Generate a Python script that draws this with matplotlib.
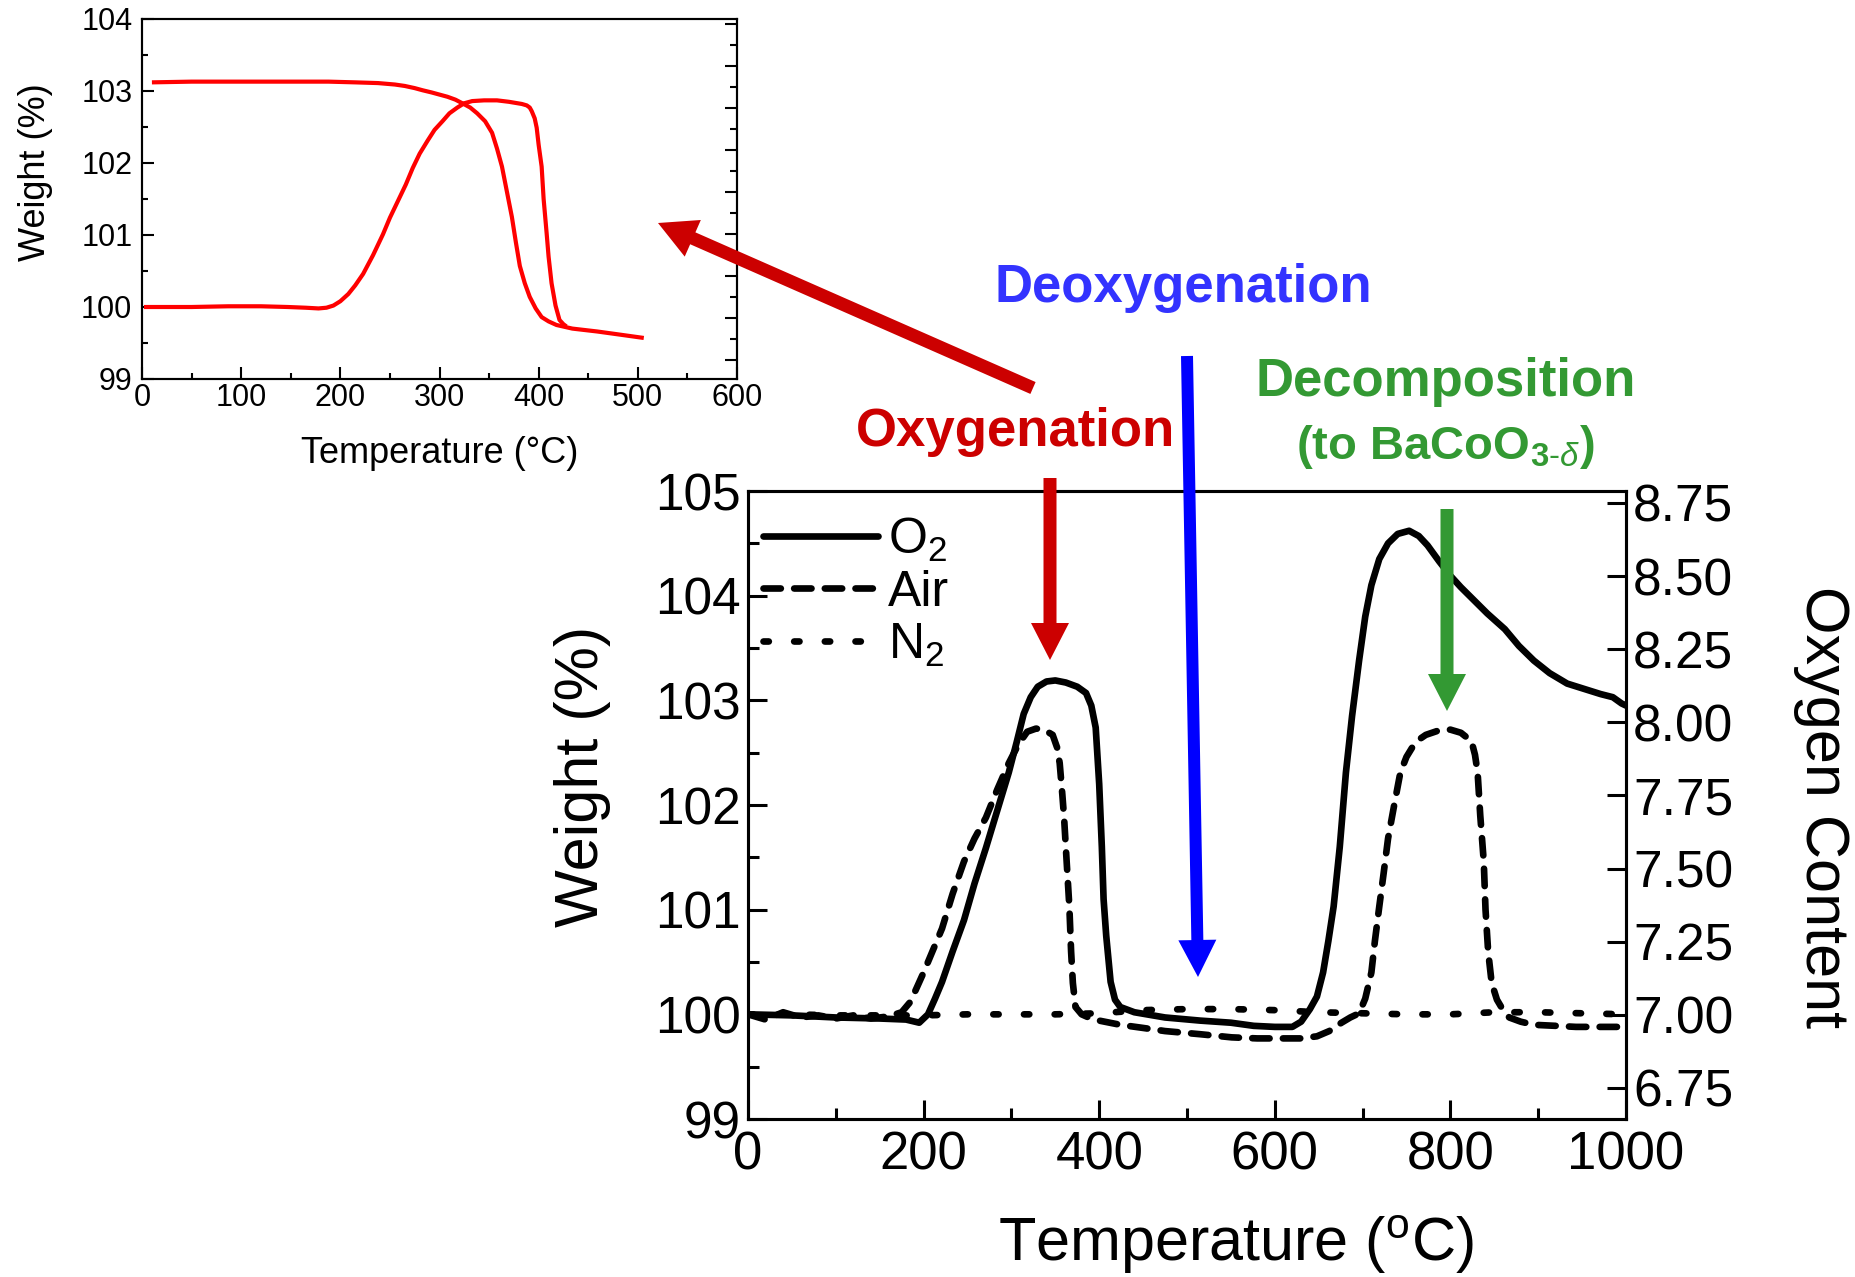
import numpy as np
import matplotlib
matplotlib.use("Agg")
import matplotlib.pyplot as plt
from matplotlib.ticker import MultipleLocator, FixedLocator, NullFormatter
from matplotlib.patches import FancyArrow

plt.rcParams['font.family'] = ['Liberation Sans', 'DejaVu Sans']
plt.rcParams['mathtext.fontset'] = 'custom'
plt.rcParams['mathtext.rm'] = 'Liberation Sans'
plt.rcParams['mathtext.it'] = 'Liberation Sans:italic'
plt.rcParams['mathtext.bf'] = 'Liberation Sans:bold'

# --------------------------------------------------
# data
# --------------------------------------------------

# main plot: weight (%) vs temperature (C)
o2_temp = [0, 50, 100, 150, 180, 195, 205, 213, 221, 233, 246, 258, 271, 284, 297,
           306, 314, 322, 330, 340, 350, 362, 375, 385, 391, 396, 400, 403, 405, 408,
           413, 418, 424, 440, 475, 515, 550, 576, 600, 620, 630, 640, 648, 655, 661,
           667, 674, 681, 688, 696, 703, 710, 719, 729, 740, 753, 764, 774, 787, 800,
           812, 824, 842, 862, 878, 895, 913, 933, 952, 971, 985, 995, 1000]
o2_weight = [100.0, 99.99, 99.97, 99.96, 99.95, 99.92, 100.0, 100.15, 100.31, 100.6,
             100.9, 101.25, 101.59, 101.95, 102.31, 102.6, 102.87, 103.03, 103.13, 103.18,
             103.19, 103.17, 103.13, 103.07, 102.95, 102.74, 102.2, 101.6, 101.1, 100.75,
             100.31, 100.14, 100.07, 100.02, 99.97, 99.94, 99.92, 99.89, 99.88, 99.88,
             99.93, 100.05, 100.17, 100.4, 100.7, 101.03, 101.6, 102.31, 102.85, 103.38,
             103.8, 104.1, 104.35, 104.5, 104.59, 104.62, 104.57, 104.48, 104.33, 104.19,
             104.08, 103.98, 103.83, 103.68, 103.52, 103.38, 103.26, 103.16, 103.11, 103.06,
             103.03, 102.97, 102.95]

air_temp = [0, 20, 40, 60, 80, 100, 120, 140, 160, 175, 185, 200, 210, 221, 233, 246,
            258, 271, 284, 297, 308, 318, 328, 337, 347, 352, 355, 358, 360, 363, 366,
            368, 370, 373, 380, 388, 400, 424, 450, 475, 515, 551, 580, 610, 630, 648,
            662, 676, 686, 696, 703, 710, 714, 719, 724, 729, 736, 743, 750, 758, 765,
            772, 786, 800, 812, 824, 828, 831, 834, 838, 840, 843, 847, 853, 860, 867,
            880, 895, 920, 943, 970, 1000]
air_weight = [100.0, 99.95, 100.02, 99.97, 99.99, 99.96, 99.99, 99.96, 99.98, 100.02,
              100.12, 100.4, 100.6, 100.82, 101.15, 101.46, 101.68, 101.88, 102.15, 102.4,
              102.58, 102.7, 102.73, 102.72, 102.67, 102.55, 102.4, 102.1, 101.88, 101.45,
              101.03, 100.6, 100.3, 100.07, 100.0, 99.97, 99.94, 99.9, 99.87, 99.84,
              99.81, 99.78, 99.77, 99.77, 99.77, 99.79, 99.84, 99.92, 99.97, 100.01,
              100.15, 100.4, 100.7, 101.03, 101.35, 101.68, 102.0, 102.31, 102.46, 102.57,
              102.63, 102.67, 102.71, 102.72, 102.69, 102.61, 102.48, 102.31, 101.9, 101.46,
              101.0, 100.6, 100.3, 100.14, 100.04, 99.97, 99.93, 99.9, 99.89, 99.88,
              99.88, 99.88]

n2_temp = [0, 50, 100, 150, 200, 250, 300, 350, 400, 450, 500, 550, 600, 650, 700,
           750, 800, 850, 900, 950, 1000]
n2_weight = [100.0, 100.0, 99.99, 99.99, 99.99, 100.0, 100.0, 100.0, 100.01, 100.04,
             100.05, 100.05, 100.04, 100.02, 100.01, 100.0, 100.0, 100.02, 100.02, 100.01,
             100.0]

# inset: two red curves
inset_a_temp = [10, 50, 100, 150, 188, 215, 238, 255, 265, 275, 283, 292, 300, 308, 316,
                323, 331, 338, 346, 353, 358, 363, 368, 373, 377, 381, 386, 391, 397, 403,
                410, 418, 434, 459, 480, 506]
inset_a_weight = [103.12, 103.13, 103.13, 103.13, 103.13, 103.12, 103.11, 103.09, 103.07,
                  103.04, 103.01, 102.98, 102.95, 102.92, 102.88, 102.83, 102.77, 102.69,
                  102.58, 102.42, 102.2, 101.95, 101.6, 101.25, 100.9, 100.57, 100.33,
                  100.14, 99.98, 99.86, 99.8, 99.75, 99.7, 99.66, 99.62, 99.57]

inset_b_temp = [2, 50, 87, 120, 147, 165, 178, 186, 193, 200, 208, 215, 223, 233, 243,
                250, 258, 266, 273, 280, 288, 295, 303, 310, 318, 325, 333, 345, 358, 370,
                383, 388, 391, 393, 396, 398, 400, 403, 405, 408, 410, 413, 417, 421, 425,
                428]
inset_b_weight = [100.0, 100.0, 100.01, 100.01, 100.0, 99.99, 99.98, 99.99, 100.02, 100.08,
                  100.18, 100.3, 100.46, 100.72, 101.01, 101.24, 101.47, 101.7, 101.93,
                  102.13, 102.31, 102.46, 102.58, 102.69, 102.77, 102.83, 102.86, 102.87,
                  102.87, 102.85, 102.82, 102.8, 102.77, 102.72, 102.62, 102.49, 102.25,
                  101.95, 101.5, 101.03, 100.7, 100.33, 100.02, 99.82, 99.76, 99.73]

oxygen_ticks = [6.75, 7.00, 7.25, 7.50, 7.75, 8.00, 8.25, 8.50, 8.75]

# --------------------------------------------------
# figure
# --------------------------------------------------
W, H = 1855, 1277
fig = plt.figure(figsize=(W / 100, H / 100), dpi=100)

# ---- main axes ----
ax = fig.add_axes([748 / W, 1 - 1119 / H, 878 / W, 628 / H])
lw = 4.8
ax.plot(o2_temp, o2_weight, color='black', lw=lw, solid_capstyle='round',
        solid_joinstyle='round', label='O$_2$')
ax.plot(air_temp, air_weight, color='black', lw=lw, linestyle=(0, (2.6, 2.0)),
        dash_capstyle='round', label='Air')
ax.plot(n2_temp, n2_weight, color='black', lw=lw, linestyle=(0, (0.8, 3.8)),
        dash_capstyle='round', label='N$_2$')

ax.set_xlim(0, 1000)
ax.set_ylim(99, 105)
ax.xaxis.set_major_locator(MultipleLocator(200))
ax.xaxis.set_minor_locator(MultipleLocator(100))
ax.yaxis.set_major_locator(MultipleLocator(1))
ax.yaxis.set_minor_locator(MultipleLocator(0.5))
ax.tick_params(which='both', direction='in', top=False, right=False, width=2.2)
ax.tick_params(which='major', length=14, pad=5)
ax.tick_params(which='minor', length=8)
ax.tick_params(axis='y', labelsize=37)
ax.tick_params(axis='x', labelsize=38, pad=8)
for s in ax.spines.values():
    s.set_linewidth(2.2)

ax.set_xlabel("Temperature ($^{\\rm o}$C)", fontsize=44, va='center')
ax.xaxis.set_label_coords(0.556, -0.2)
ax.set_ylabel("Weight (%)", fontsize=44, va='center')
ax.yaxis.set_label_coords(-0.189, 0.545)

ax.legend(loc='upper left', bbox_to_anchor=(0.0, 0.985), frameon=False, fontsize=36,
          handlelength=2.3, handletextpad=0.2, labelspacing=0.12, borderaxespad=0.2,
          borderpad=0.1)

# right axis: oxygen content
ax2 = ax.twinx()
ax2.set_ylim(6.644, 8.791)
ax2.yaxis.set_major_locator(FixedLocator(oxygen_ticks))
ax2.set_yticklabels([f"{v:.2f}" for v in oxygen_ticks])
ax2.tick_params(which='both', direction='in', length=14, width=2.2, labelsize=37, pad=5)
for s in ax2.spines.values():
    s.set_linewidth(2.2)
ax2.set_ylabel("Oxygen Content", fontsize=44, rotation=-90, va='center')
ax2.yaxis.set_label_coords(1.223, 0.497)

# ---- inset axes ----
axi = fig.add_axes([142 / W, 1 - 379 / H, 595 / W, 360 / H])
axi.plot(inset_a_temp, inset_a_weight, color='#FF0000', lw=3.0, solid_capstyle='butt')
axi.plot(inset_b_temp, inset_b_weight, color='#FF0000', lw=3.0, solid_capstyle='butt')
axi.set_xlim(0, 600)
axi.set_ylim(99, 104)
axi.xaxis.set_major_locator(MultipleLocator(100))
axi.xaxis.set_minor_locator(MultipleLocator(50))
axi.yaxis.set_major_locator(MultipleLocator(1))
axi.yaxis.set_minor_locator(MultipleLocator(0.5))
axi.tick_params(which='both', direction='in', top=False, right=False, width=1.5,
                labelsize=22, pad=3)
axi.tick_params(axis='y', pad=7)
axi.tick_params(which='major', length=8.5)
axi.tick_params(which='minor', length=4.5)
for s in axi.spines.values():
    s.set_linewidth(1.5)
axi.set_xlabel("Temperature (\u00b0C)", fontsize=26, va='center')
axi.xaxis.set_label_coords(0.50, -0.208)
axi.set_ylabel("Weight (%)", fontsize=26, va='center')
axi.yaxis.set_label_coords(-0.179, 0.576)

# unlabelled ticks on the inset's right side
axi2 = axi.twinx()
axi2.set_ylim(-0.452, 8.119)
axi2.yaxis.set_major_locator(MultipleLocator(1))
axi2.yaxis.set_minor_locator(MultipleLocator(0.5))
axi2.yaxis.set_major_formatter(NullFormatter())
axi2.tick_params(which='both', direction='in', width=1.5)
axi2.tick_params(which='major', length=8.5)
axi2.tick_params(which='minor', length=5)
for s in axi2.spines.values():
    s.set_linewidth(1.5)

# ---- overlay for arrows and notes (pixel coordinates) ----
ov = fig.add_axes([0, 0, 1, 1], zorder=10)
ov.set_xlim(0, W)
ov.set_ylim(H, 0)
ov.axis('off')

red = '#CC0000'
blue = '#0000FF'
green = '#339933'

def arrow(x0, y0, x1, y1, color, width=13, head_width=38, head_length=37):
    ov.add_patch(FancyArrow(x0, y0, x1 - x0, y1 - y0, width=width, head_width=head_width,
                            head_length=head_length, length_includes_head=True,
                            color=color, lw=0))

arrow(1033, 388, 658, 223, red, width=13, head_width=40, head_length=38)
arrow(1050, 478, 1050, 660, red)
arrow(1187, 356, 1198, 977, blue, width=12)
arrow(1447, 509, 1447, 711, green)

ov.text(1183, 288, "Deoxygenation", color='#3333FF', fontsize=38, fontweight='bold',
        ha='center', va='center')
ov.text(1015, 432, "Oxygenation", color=red, fontsize=38, fontweight='bold',
        ha='center', va='center')
ov.text(1446, 382, "Decomposition", color=green, fontsize=38, fontweight='bold',
        ha='center', va='center')
ov.text(1445, 447, "(to BaCoO$_{\\mathbf{3}\\text{-}\\delta}$)", color=green, fontsize=34,
        fontweight='bold', ha='center', va='center')

fig.savefig("out.png", dpi=100)
